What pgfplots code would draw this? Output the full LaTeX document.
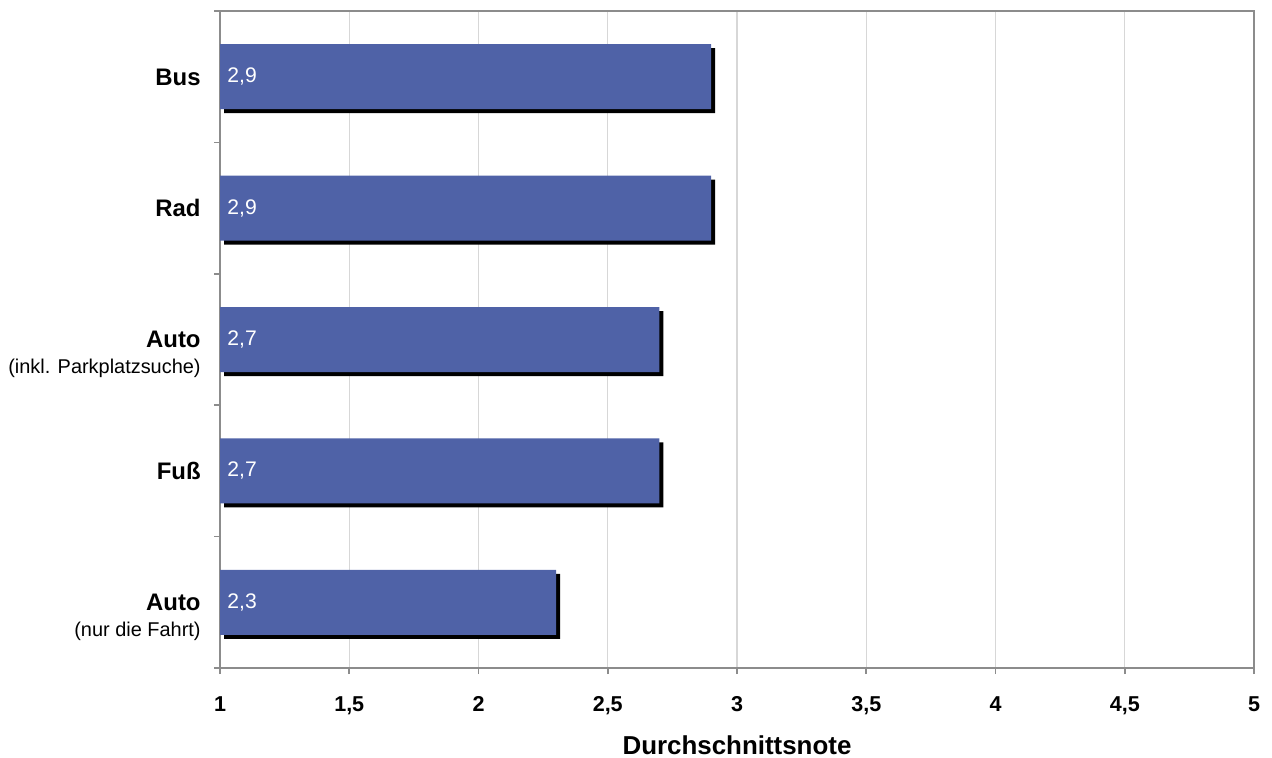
\documentclass[border=0pt]{standalone}
\usepackage{pgfplots}
\pgfplotsset{compat=1.18}
\usepackage{fontspec}
\setmainfont{Liberation Sans}
\definecolor{barblue}{RGB}{79,98,167}
\definecolor{axgray}{RGB}{140,140,140}
\definecolor{gridgray}{RGB}{215,215,215}
\begin{document}
\begin{tikzpicture}
\begin{axis}[
  scale only axis,
  width=517bp, height=328.5bp,
  xmin=1, xmax=5, ymin=0.5, ymax=5.5,
  xtick={1,1.5,...,5},
  xticklabels={1,{1,5},2,{2,5},3,{3,5},4,{4,5},5},
  xticklabel style={font=\fontsize{10.8}{12}\selectfont\bfseries, inner sep=0pt, yshift=-11bp},
  xmajorgrids,
  grid style={gridgray, line width=0.6bp},
  tick align=outside,
  major tick length=3bp,
  tick style={axgray, line width=0.8bp},
  axis line style={axgray, line width=1.1bp},
  xtick pos=bottom, ytick pos=left,
  ytick={0.5,1.5,...,5.5},
  yticklabels={},
  extra y ticks={1,2,3,4,5},
  extra y tick labels={
    {\begin{tabular}[t]{@{}r@{}}\fontsize{12}{13}\selectfont\bfseries Auto\\(nur die Fahrt)\end{tabular}},
    {\begin{tabular}[t]{@{}r@{}}\fontsize{12}{13}\selectfont\bfseries Fuß\end{tabular}},
    {\begin{tabular}[t]{@{}r@{}}\fontsize{12}{13}\selectfont\bfseries Auto\\(inkl. Parkplatzsuche)\end{tabular}},
    {\begin{tabular}[t]{@{}r@{}}\fontsize{12}{13}\selectfont\bfseries Rad\end{tabular}},
    {\begin{tabular}[t]{@{}r@{}}\fontsize{12}{13}\selectfont\bfseries Bus\end{tabular}}
  },
  extra y tick style={major tick length=0pt, tick style={draw=none}},
  yticklabel style={font=\fontsize{10}{13}\selectfont, anchor=base east, inner sep=0pt, xshift=-9.5bp, yshift=-4.2bp},
  xlabel={Durchschnittsnote},
  xlabel style={font=\fontsize{13}{15}\selectfont\bfseries, at={(axis description cs:0.5,0)}, anchor=center, yshift=-38.5bp},
  clip=true,
]
\addplot[xbar, bar width=32.5bp, bar shift=0pt, fill=black, draw=none, xshift=2bp, yshift=-2bp] coordinates {(2.3,1) (2.7,2) (2.7,3) (2.9,4) (2.9,5)};
\addplot[xbar, bar width=32.5bp, bar shift=0pt, fill=barblue, draw=none] coordinates {(2.3,1) (2.7,2) (2.7,3) (2.9,4) (2.9,5)};
\addplot[forget plot, only marks, mark=none, point meta=explicit symbolic,
  nodes near coords,
  every node near coord/.append style={anchor=west, text=white, font=\fontsize{10.6}{12}\selectfont, inner sep=0pt, xshift=3.5bp}]
  table[meta=lab] {
x y lab
1 1 {2,3}
1 2 {2,7}
1 3 {2,7}
1 4 {2,9}
1 5 {2,9}
};
\end{axis}
\pgfresetboundingbox
\path[use as bounding box] ([xshift=-110bp,yshift=-44.5bp]current axis.south west) rectangle ([xshift=9bp,yshift=5.5bp]current axis.north east);
\end{tikzpicture}
\end{document}
